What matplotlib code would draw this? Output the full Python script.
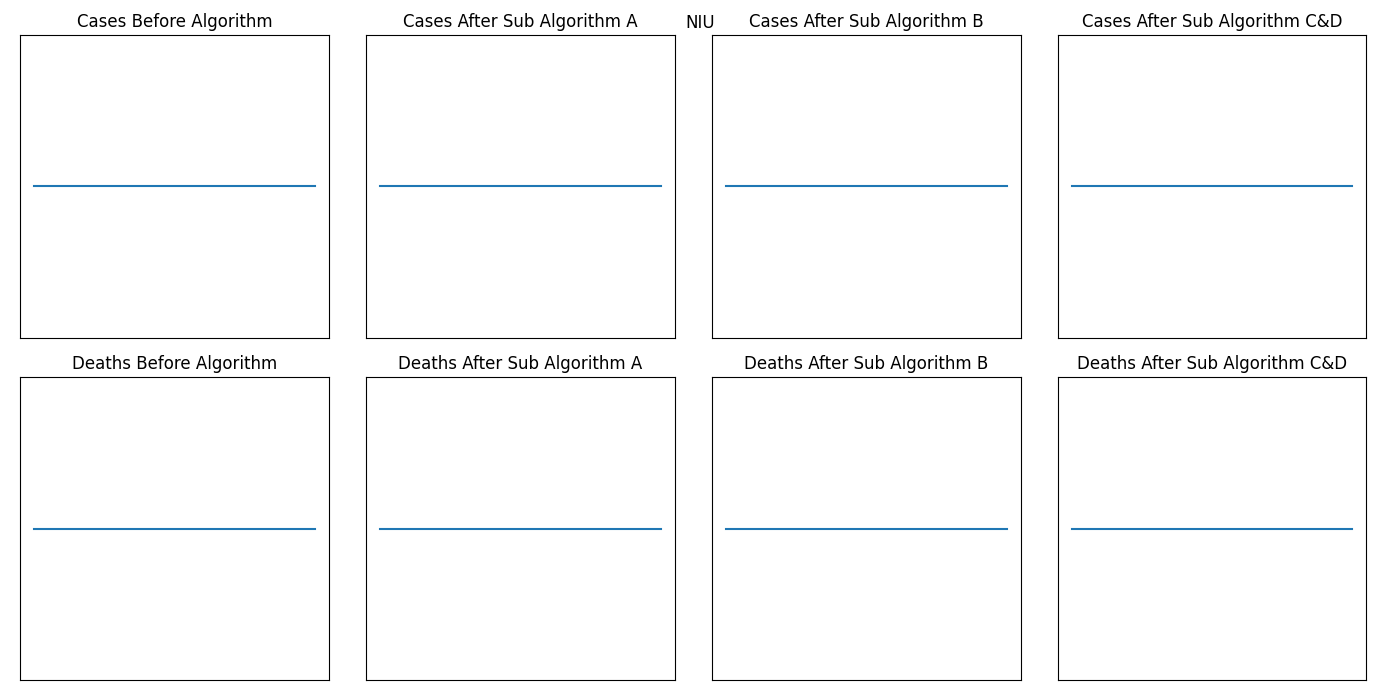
import matplotlib
matplotlib.use("Agg")
import matplotlib.pyplot as plt

COUNTRY = "NIU"
DAYS = list(range(10))

cases_before = [0, 0, 0, 0, 0, 0, 0, 0, 0, 0]
cases_after_a = [0, 0, 0, 0, 0, 0, 0, 0, 0, 0]
cases_after_b = [0, 0, 0, 0, 0, 0, 0, 0, 0, 0]
cases_after_cd = [0, 0, 0, 0, 0, 0, 0, 0, 0, 0]
deaths_before = [0, 0, 0, 0, 0, 0, 0, 0, 0, 0]
deaths_after_a = [0, 0, 0, 0, 0, 0, 0, 0, 0, 0]
deaths_after_b = [0, 0, 0, 0, 0, 0, 0, 0, 0, 0]
deaths_after_cd = [0, 0, 0, 0, 0, 0, 0, 0, 0, 0]

STAGES = ["Before Algorithm", "After Sub Algorithm A",
          "After Sub Algorithm B", "After Sub Algorithm C&D"]


def main():
    fig, axes = plt.subplots(2, 4, figsize=(14, 7))
    rows = [
        ("Cases", [cases_before, cases_after_a, cases_after_b, cases_after_cd]),
        ("Deaths", [deaths_before, deaths_after_a, deaths_after_b, deaths_after_cd]),
    ]
    for r, (name, series) in enumerate(rows):
        for c, values in enumerate(series):
            ax = axes[r, c]
            ax.plot(DAYS, values)
            ax.set_title(f"{name} {STAGES[c]}")
            ax.set_xticks([])
            ax.set_yticks([])

    fig.suptitle(COUNTRY)
    # same spacing as the old tight_layout (which ignored the suptitle)
    fig.subplots_adjust(left=0.0143, right=0.976, top=0.95, bottom=0.0286,
                        wspace=0.12, hspace=0.132)
    plt.savefig("out.png", dpi=100)
    plt.close()


if __name__ == "__main__":
    main()
